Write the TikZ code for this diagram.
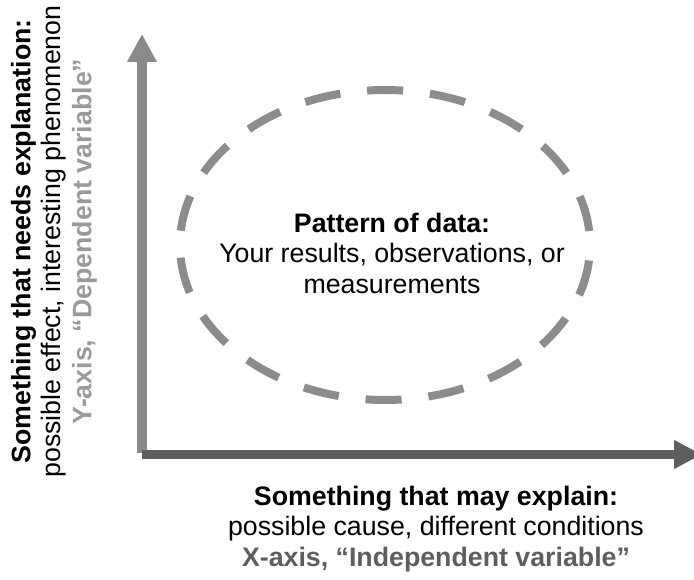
\documentclass[tikz,border=0pt]{standalone}
\usepackage{fontspec}
\setmainfont{Liberation Sans}
\usetikzlibrary{arrows.meta}
\definecolor{yaxisgray}{HTML}{8A8A8A}
\definecolor{xaxisgray}{HTML}{5E5E5E}
\definecolor{ringgray}{HTML}{8C8C8C}
\definecolor{ylabgray}{HTML}{9A9A9A}
\definecolor{xlabgray}{HTML}{5E5E5E}
\begin{document}
\begin{tikzpicture}[x=1pt,y=1pt,
  axisy/.style={line width=9.5pt, draw=yaxisgray, -{Triangle[length=28pt,width=28pt]}},
  axisx/.style={line width=9pt, draw=xaxisgray, -{Triangle[length=28pt,width=27pt]}},
  ring/.style={line width=8pt, draw=ringgray, dash pattern=on 36pt off 27pt, dash phase=49pt},
  labeltext/.style={align=center, inner sep=0pt, font=\fontsize{26.75}{30.5}\selectfont},
]
\useasboundingbox (0,0) rectangle (694,579);
\clip (0,0) rectangle (694,579);

% axes
\coordinate (ybase) at (142,126);
\coordinate (ytip) at (142,545);
\coordinate (xbase) at (142,124.5);
\coordinate (xtip) at (702,124.5);
\draw[axisy] (ybase) -- (ytip);
\draw[axisx] (xbase) -- (xtip);

% dashed region of data
\draw[ring] (385,334) ellipse [x radius=205, y radius=155];
\node[labeltext] (data) at (392,326)
  {\textbf{Pattern of data:}\\Your results, observations, or\\measurements};

% axis captions
\node[labeltext, rotate=90] (ylabel) at (54,337.5)
  {\textbf{Something that needs explanation:}\\possible effect, interesting phenomenon\\
   \textcolor{ylabgray}{\textbf{Y-axis, “Dependent variable”}}};
\node[labeltext] (xlabel) at (436,50)
  {\textbf{Something that may explain:}\\possible cause, different conditions\\
   \textcolor{xlabgray}{\textbf{X-axis, “Independent variable”}}};
\end{tikzpicture}
\end{document}
